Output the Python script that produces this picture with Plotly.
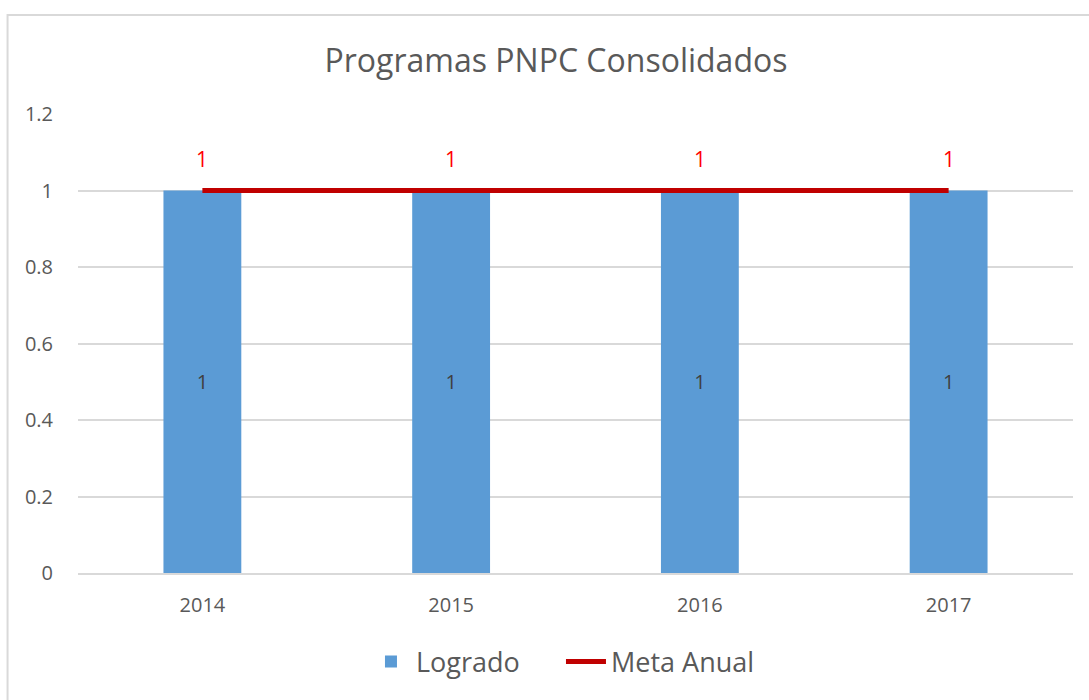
import plotly.graph_objects as go

years = ["2014", "2015", "2016", "2017"]
logrado = [1, 1, 1, 1]
meta_anual = [1, 1, 1, 1]
y_ticks = [0, 0.2, 0.4, 0.6, 0.8, 1, 1.2]
y_tick_text = ["0", "0.2", "0.4", "0.6", "0.8", "1", "1.2"]

FONT = "Open Sans"

fig = go.Figure()
fig.add_trace(go.Bar(
    x=years, y=logrado, name="Logrado",
    marker=dict(color="#5B9BD5", line=dict(width=0)),
    width=0.313,
    text=[str(v) for v in logrado], textposition="inside",
    insidetextanchor="middle",
    textfont=dict(color="#404040", size=20, family=FONT),
))
fig.add_trace(go.Scatter(
    x=years, y=meta_anual, name="Meta Anual", mode="lines",
    line=dict(color="#C00000", width=5),
))
for i, v in enumerate(meta_anual):
    fig.add_annotation(x=i, y=v, text=str(v), showarrow=False, yshift=32,
                       font=dict(color="#FF0000", size=21, family=FONT))

fig.add_shape(type="rect", xref="paper", yref="paper",
              x0=-0.0708, x1=1.05, y0=-0.35, y1=1.2157,
              line=dict(color="#D9D9D9", width=2), fillcolor="rgba(0,0,0,0)",
              layer="below")

fig.update_layout(
    width=1089, height=700,
    margin=dict(l=77.5, r=15.5, t=114, b=127),
    paper_bgcolor="white", plot_bgcolor="white",
    title=dict(text="Programas PNPC Consolidados", xref="paper", x=0.4804,
               xanchor="center", yref="container", y=1 - 61 / 700, yanchor="middle",
               font=dict(size=32, color="#595959", family=FONT)),
    xaxis=dict(type="category", range=[-0.5, len(years) - 0.5], autorange=False,
               showgrid=False, showline=True,
               linecolor="#D9D9D9", linewidth=1.5, ticks="",
               tickfont=dict(size=20, color="#595959", family=FONT),
               ticklabelstandoff=13),
    yaxis=dict(range=[0, 1.2], tickvals=y_ticks, ticktext=y_tick_text,
               showgrid=True, gridcolor="#D9D9D9", gridwidth=1.5,
               zeroline=False, showline=False, ticks="",
               tickfont=dict(size=20, color="#595959", family=FONT),
               ticklabelstandoff=24),
    legend=dict(orientation="h", x=0.4854, xanchor="center", y=-0.194,
                yanchor="middle", font=dict(size=27, color="#595959", family=FONT),
                itemwidth=40, entrywidth=140),
    showlegend=True,
)

fig.write_html("out.html", config={"displayModeBar": False},
               post_script="document.body.style.margin='0px';")
